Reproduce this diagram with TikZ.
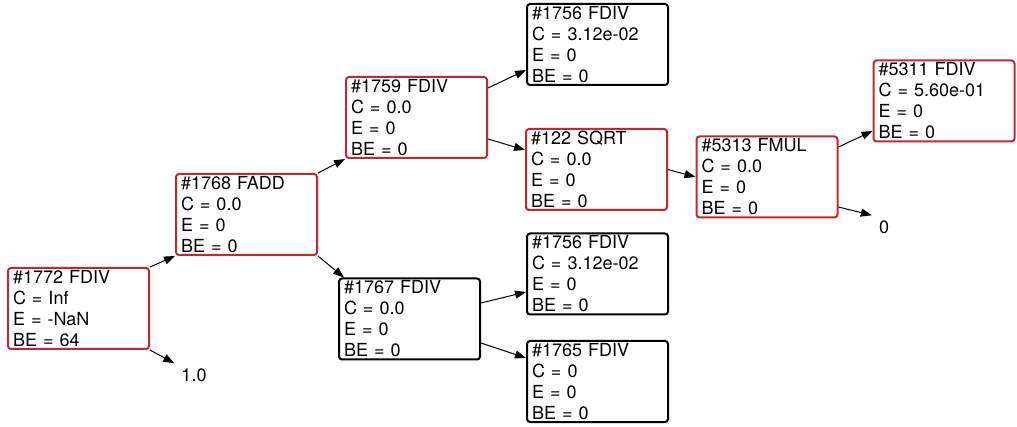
\documentclass[tikz,border=0pt]{standalone}
\usepackage{fontspec}
\setmainfont{TeX Gyre Heros}
\usetikzlibrary{arrows.meta}
\definecolor{boxred}{RGB}{198,38,46}
\tikzset{
  box/.style={draw, line width=2pt, rounded corners=3pt, minimum width=141pt, minimum height=81pt,
    text width=131pt, inner xsep=5pt, inner ysep=0pt, align=left, font=\fontsize{18}{21}\selectfont},
  redbox/.style={box, draw=boxred},
  blackbox/.style={box, draw=black},
  edge/.style={-{Triangle[length=11pt,width=8pt]}, line width=1pt},
  lbl/.style={font=\fontsize{18}{21}\selectfont, inner sep=1pt}
}
\begin{document}
\begin{tikzpicture}[x=1pt,y=-1pt]
\useasboundingbox (0,0) rectangle (1017,427);
\node[redbox] (A) at (78.5,308.5) {\#1772 FDIV\\C = Inf\\E = -NaN\\BE = 64};
\node[redbox] (B) at (246.5,214.5) {\#1768 FADD\\C = 0.0\\E = 0\\BE = 0};
\node[redbox] (C) at (416.5,117.5) {\#1759 FDIV\\C = 0.0\\E = 0\\BE = 0};
\node[blackbox] (D) at (597.5,44.5) {\#1756 FDIV\\C = 3.12e-02\\E = 0\\BE = 0};
\node[redbox] (E) at (596.5,169.5) {\#122 SQRT\\C = 0.0\\E = 0\\BE = 0};
\node[redbox] (F) at (767,177) {\#5313 FMUL\\C = 0.0\\E = 0\\BE = 0};
\node[redbox] (G) at (944,101) {\#5311 FDIV\\C = 5.60e-01\\E = 0\\BE = 0};
\node[blackbox] (H) at (409.5,319) {\#1767 FDIV\\C = 0.0\\E = 0\\BE = 0};
\node[blackbox] (I) at (597.5,274) {\#1756 FDIV\\C = 3.12e-02\\E = 0\\BE = 0};
\node[blackbox] (J) at (597.5,381.5) {\#1765 FDIV\\C = 0\\E = 0\\BE = 0};
\node[lbl] (l1) at (194,375) {1.0};
\node[lbl] (l0) at (884,227) {0};
\draw[edge] (A.north east) -- (B.south west);
\draw[edge] (A.south east) -- ([xshift=-6pt,yshift=4pt]l1.north west);
\draw[edge] (B.north east) -- (C.south west);
\draw[edge] (B.south east) -- ([xshift=6pt]H.north west);
\draw[edge] ([yshift=29.5pt]C.east) -- ([yshift=-25.5pt]D.west);
\draw[edge] ([yshift=-21.5pt]C.east) -- ([yshift=19.5pt]E.west);
\draw[edge] (E.east) -- (F.west);
\draw[edge] ([yshift=30pt]F.east) -- ([yshift=-30pt]G.west);
\draw[edge] ([yshift=-30pt]F.east) -- ([xshift=-6pt,yshift=4pt]l0.north west);
\draw[edge] ([yshift=16pt]H.east) -- ([yshift=-18pt]I.west);
\draw[edge] ([yshift=-24pt]H.east) -- ([yshift=23.5pt]J.west);
\end{tikzpicture}
\end{document}
